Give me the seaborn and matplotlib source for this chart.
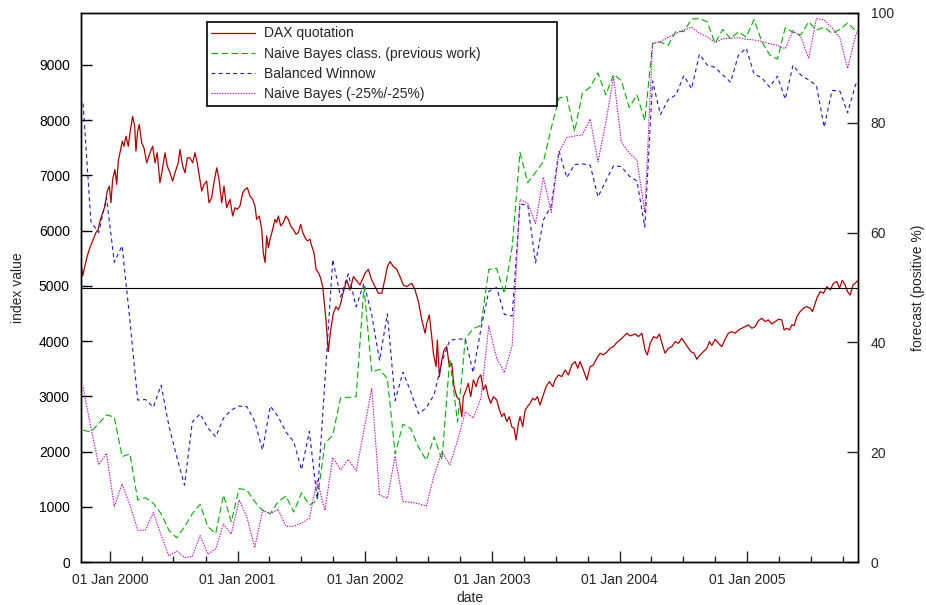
import numpy as np
import pandas as pd
import matplotlib
matplotlib.use("Agg")
import matplotlib.pyplot as plt
import matplotlib.dates as mdates
import seaborn as sns

sns.set_style("white")
plt.rcParams["font.family"] = ["Liberation Sans", "DejaVu Sans"]

# ---------------- data ----------------
# DAX quotation: dates as decimal years, index values
dax_years = [
    1999.772, 1999.786, 1999.804, 1999.822, 1999.843, 1999.869, 1999.890, 1999.908, 1999.922, 1999.943,
    1999.961, 1999.979, 1999.995, 2000.008, 2000.021, 2000.039, 2000.053, 2000.065, 2000.084, 2000.097,
    2000.110, 2000.126, 2000.144, 2000.157, 2000.178, 2000.194, 2000.204, 2000.217, 2000.230, 2000.249,
    2000.267, 2000.288, 2000.314, 2000.335, 2000.353, 2000.371, 2000.392, 2000.411, 2000.432, 2000.450,
    2000.471, 2000.492, 2000.510, 2000.536, 2000.549, 2000.571, 2000.589, 2000.607, 2000.628, 2000.649,
    2000.667, 2000.685, 2000.706, 2000.720, 2000.738, 2000.759, 2000.777, 2000.798, 2000.816, 2000.838,
    2000.856, 2000.877, 2000.895, 2000.916, 2000.942, 2000.963, 2000.981, 2000.999, 2001.020, 2001.042,
    2001.060, 2001.078, 2001.099, 2001.120, 2001.138, 2001.151, 2001.172, 2001.191, 2001.203, 2001.217,
    2001.230, 2001.243, 2001.256, 2001.277, 2001.295, 2001.308, 2001.321, 2001.340, 2001.360, 2001.381,
    2001.400, 2001.418, 2001.439, 2001.460, 2001.478, 2001.497, 2001.513, 2001.531, 2001.549, 2001.570,
    2001.583, 2001.601, 2001.617, 2001.635, 2001.652, 2001.670, 2001.680, 2001.695, 2001.713, 2001.732,
    2001.753, 2001.774, 2001.792, 2001.811, 2001.825, 2001.858, 2001.884, 2001.910, 2001.962, 2002.002,
    2002.027, 2002.054, 2002.080, 2002.106, 2002.133, 2002.159, 2002.177, 2002.198, 2002.224, 2002.250,
    2002.276, 2002.302, 2002.329, 2002.368, 2002.394, 2002.422, 2002.447, 2002.473, 2002.486, 2002.506,
    2002.525, 2002.538, 2002.559, 2002.569, 2002.585, 2002.604, 2002.622, 2002.643, 2002.663, 2002.682,
    2002.700, 2002.721, 2002.742, 2002.761, 2002.773, 2002.794, 2002.812, 2002.831, 2002.852, 2002.873,
    2002.891, 2002.910, 2002.930, 2002.949, 2002.969, 2002.988, 2003.009, 2003.035, 2003.056, 2003.075,
    2003.093, 2003.114, 2003.134, 2003.153, 2003.171, 2003.187, 2003.205, 2003.218, 2003.239, 2003.258,
    2003.276, 2003.297, 2003.318, 2003.336, 2003.354, 2003.375, 2003.396, 2003.422, 2003.448, 2003.475,
    2003.493, 2003.519, 2003.546, 2003.571, 2003.597, 2003.624, 2003.650, 2003.671, 2003.689, 2003.715,
    2003.742, 2003.768, 2003.794, 2003.820, 2003.846, 2003.872, 2003.899, 2003.925, 2003.951, 2003.977,
    2004.003, 2004.029, 2004.056, 2004.082, 2004.121, 2004.147, 2004.174, 2004.199, 2004.217, 2004.239,
    2004.265, 2004.291, 2004.312, 2004.331, 2004.356, 2004.382, 2004.409, 2004.435, 2004.461, 2004.487,
    2004.513, 2004.531, 2004.558, 2004.584, 2004.605, 2004.631, 2004.657, 2004.684, 2004.704, 2004.723,
    2004.749, 2004.775, 2004.801, 2004.827, 2004.853, 2004.880, 2004.906, 2004.932, 2004.958, 2004.984,
    2005.010, 2005.037, 2005.063, 2005.089, 2005.115, 2005.141, 2005.167, 2005.194, 2005.220, 2005.246,
    2005.272, 2005.290, 2005.312, 2005.332, 2005.351, 2005.369, 2005.390, 2005.416, 2005.442, 2005.469,
    2005.495, 2005.513, 2005.534, 2005.547, 2005.573, 2005.599, 2005.626, 2005.652, 2005.677, 2005.704,
    2005.725, 2005.746, 2005.769, 2005.787, 2005.809, 2005.830, 2005.848, 2005.874,
]
dax_values = [
    5421, 5181, 5361, 5542, 5692, 5843, 5963, 6023, 6174, 6325,
    6445, 6716, 6806, 6505, 6926, 7107, 6836, 7257, 7468, 7619,
    7528, 7709, 7528, 7769, 8070, 7890, 7438, 7799, 7920, 7589,
    7498, 7227, 7408, 7528, 7227, 7408, 6866, 7107, 7408, 7167,
    7047, 6896, 7047, 7227, 7468, 7167, 7047, 7318, 7318, 7227,
    7408, 7227, 6926, 6716, 6836, 6896, 6505, 6595, 6866, 7137,
    6926, 6505, 6806, 6415, 6565, 6264, 6415, 6385, 6445, 6686,
    6746, 6776, 6625, 6565, 6445, 6204, 6264, 6023, 5602, 5421,
    5903, 5692, 5843, 6023, 6204, 6144, 6264, 6084, 6144, 6264,
    6204, 6084, 6023, 5933, 5963, 6114, 5963, 5873, 5813, 5843,
    5722, 5602, 5301, 5241, 5150, 4980, 4745, 4383, 3809, 4202,
    4504, 4624, 4564, 4685, 4835, 5107, 4926, 5167, 5016, 5228,
    5301, 5107, 4986, 4866, 4866, 5138, 5348, 5439, 5348, 5301,
    5167, 5016, 4986, 5047, 4926, 4700, 4383, 4142, 4323, 4473,
    4081, 3780, 3537, 4020, 3356, 3658, 3839, 3899, 3537, 3598,
    3175, 2994, 2934, 2632, 2994, 3115, 3236, 2994, 3296, 3175,
    3327, 3387, 3115, 3206, 2994, 2874, 2994, 2934, 2753, 2632,
    2693, 2541, 2632, 2450, 2421, 2209, 2511, 2632, 2450, 2753,
    2813, 2874, 2965, 2934, 2994, 2843, 2994, 3175, 3266, 3175,
    3296, 3387, 3356, 3477, 3387, 3568, 3628, 3508, 3628, 3477,
    3296, 3537, 3568, 3689, 3780, 3750, 3800, 3870, 3899, 3975,
    4020, 4081, 4142, 4093, 4129, 4081, 4142, 3839, 3749, 3960,
    4081, 4051, 4129, 3960, 3780, 3870, 3899, 3990, 3960, 4051,
    3960, 3899, 3809, 3780, 3671, 3749, 3809, 3870, 3990, 3920,
    4033, 3960, 3899, 4033, 4142, 4171, 4142, 4202, 4232, 4262,
    4292, 4232, 4262, 4370, 4413, 4353, 4383, 4310, 4353, 4395,
    4383, 4202, 4232, 4202, 4292, 4280, 4443, 4533, 4594, 4624,
    4594, 4533, 4685, 4775, 4896, 4866, 4986, 4926, 5047, 5077,
    4956, 5100, 5016, 4896, 4835, 5016, 5047, 5107,
]

# Forecast series (% positive), sampled every ~16 trading days
fc_start = "1999-10-16"
fc_step_days = 22.36
nb_prev = [
    24.0, 23.7, 25.2, 26.8, 26.4, 19.2, 19.7, 11.3, 11.7, 10.7,
    8.8, 5.8, 4.4, 6.4, 8.8, 10.5, 6.4, 5.2, 12.2, 7.3,
    13.4, 13.1, 11.0, 9.4, 8.8, 11.0, 12.0, 9.1, 12.6, 10.4,
    11.2, 21.6, 23.1, 29.9, 30.0, 30.1, 50.1, 34.6, 35.1, 33.4,
    19.7, 25.1, 24.3, 20.9, 18.5, 22.8, 18.6, 37.0, 25.5, 40.7,
    42.5, 43.1, 53.3, 53.5, 48.9, 57.4, 74.6, 69.1, 71.0, 72.9,
    79.0, 84.5, 84.8, 78.4, 85.4, 86.5, 89.1, 85.1, 88.8, 87.7,
    82.8, 85.1, 80.4, 94.4, 94.7, 94.1, 96.7, 96.6, 98.9, 99.0,
    98.4, 94.5, 97.0, 95.3, 96.6, 95.6, 98.8, 94.8, 92.4, 91.6,
    97.3, 96.5, 96.0, 98.4, 96.9, 97.4, 96.3, 97.0, 98.2, 96.8,
    96.0,
]
winnow = [
    83.5, 62.0, 60.0, 66.4, 54.6, 57.6, 44.0, 29.5, 29.6, 28.2,
    32.2, 24.8, 19.2, 14.0, 25.5, 27.0, 24.4, 22.8, 26.2, 27.7,
    28.4, 28.3, 25.6, 20.4, 28.4, 26.5, 23.7, 21.9, 16.8, 23.8,
    11.5, 33.0, 55.1, 48.3, 52.5, 46.5, 50.8, 45.0, 36.7, 45.2,
    29.4, 34.6, 31.0, 27.0, 28.1, 30.5, 36.5, 40.4, 40.6, 40.6,
    34.5, 42.5, 49.3, 50.0, 45.1, 44.8, 65.2, 65.0, 54.5, 62.3,
    64.9, 74.9, 70.0, 72.4, 72.5, 72.3, 66.5, 69.4, 72.2, 72.0,
    70.3, 69.4, 61.0, 87.6, 81.5, 84.2, 85.1, 88.6, 86.2, 92.5,
    90.5, 90.1, 88.7, 87.4, 92.3, 93.6, 88.9, 88.2, 86.5, 88.5,
    84.3, 90.5, 88.7, 87.8, 86.8, 79.2, 85.9, 85.8, 81.8, 86.9,
    89.0,
]
nb_25 = [
    31.8, 24.5, 17.7, 19.8, 10.1, 14.2, 10.4, 5.8, 5.8, 9.0,
    4.9, 1.1, 2.0, 0.8, 1.0, 4.8, 1.4, 2.4, 6.9, 5.1,
    11.3, 8.2, 2.6, 9.4, 8.8, 9.6, 6.5, 6.5, 7.1, 7.9,
    14.9, 9.4, 19.0, 16.8, 18.7, 16.6, 24.0, 31.6, 12.2, 11.6,
    19.3, 11.0, 10.9, 10.6, 10.2, 15.8, 20.1, 17.7, 22.1, 27.4,
    26.2, 29.8, 43.0, 37.2, 34.5, 39.4, 66.0, 65.4, 61.7, 70.1,
    63.7, 74.6, 77.3, 77.6, 77.8, 80.7, 72.9, 80.0, 88.3, 76.5,
    74.5, 73.2, 63.7, 94.5, 94.8, 95.6, 96.3, 96.9, 97.4, 96.3,
    95.7, 94.6, 95.3, 95.4, 95.5, 95.2, 95.1, 94.8, 94.4, 94.1,
    93.5, 96.8, 95.7, 91.7, 99.0, 98.7, 97.3, 95.5, 89.9, 95.8,
    99.0,
]

labels = ["DAX quotation", "Naive Bayes class. (previous work)",
          "Balanced Winnow", "Naive Bayes (-25%/-25%)"]
colors = ["#b00000", "#00b000", "#1a1ad0", "#c000c0"]

# ---------------- build frames ----------------
dax_dates = pd.Timestamp("2000-01-01") + pd.to_timedelta(
    (np.asarray(dax_years) - 2000.0) * 365.25, unit="D")
dax_df = pd.DataFrame({"date": dax_dates, "value": dax_values})
fc_dates = pd.Timestamp(fc_start) + pd.to_timedelta(
    np.arange(len(nb_prev)) * fc_step_days, unit="D")
fc_df = pd.DataFrame({"date": fc_dates, "nb_prev": nb_prev,
                      "winnow": winnow, "nb_25": nb_25})

# ---------------- figure ----------------
W, H = 926, 605
fig = plt.figure(figsize=(W / 100, H / 100), dpi=100)
ax = fig.add_axes([81 / W, 43 / H, 777 / W, 549 / H])
ax2 = ax.twinx()

sns.lineplot(data=dax_df, x="date", y="value", ax=ax, color=colors[0],
             linewidth=0.9, estimator=None, sort=False)
l_dax = ax.lines[-1]

ax2.axhline(50, color="black", linewidth=0.8, zorder=1)

sns.lineplot(data=fc_df, x="date", y="nb_prev", ax=ax2, color=colors[1],
             linewidth=0.8, estimator=None, sort=False)
l_nb = ax2.lines[-1]
l_nb.set_linestyle((0, (6.0, 3.0)))
sns.lineplot(data=fc_df, x="date", y="winnow", ax=ax2, color=colors[2],
             linewidth=0.8, estimator=None, sort=False)
l_bw = ax2.lines[-1]
l_bw.set_linestyle((0, (3.5, 3.0)))
sns.lineplot(data=fc_df, x="date", y="nb_25", ax=ax2, color=colors[3],
             linewidth=0.8, estimator=None, sort=False)
l_nb25 = ax2.lines[-1]
l_nb25.set_linestyle((0, (1.2, 1.2)))

# axes ranges
ax.set_xlim(pd.Timestamp("1999-10-10"), pd.Timestamp("2005-11-14"))
ax.set_ylim(0, 9940)
ax2.set_ylim(0, 100)

# ticks
ax.set_yticks(np.arange(0, 10000, 1000))
ax2.set_yticks(np.arange(0, 101, 20))
ax.xaxis.set_major_locator(mdates.YearLocator())
ax.xaxis.set_major_formatter(mdates.DateFormatter("%d %b %Y"))
ax.xaxis.set_minor_locator(mdates.MonthLocator(bymonth=[4, 7, 10]))

ax.tick_params(axis="y", which="major", direction="in", length=8, width=1,
               labelsize=10, pad=8, left=True, right=False, colors="black")
ax.tick_params(axis="x", which="major", direction="in", length=8, width=1,
               labelsize=10, pad=8, bottom=True, top=False)
ax.tick_params(axis="x", which="minor", direction="in", length=4, width=1,
               bottom=True, top=False)
ax2.tick_params(axis="y", which="major", direction="in", length=8, width=1,
                labelsize=10, pad=9, right=True, left=False)

for a in (ax, ax2):
    for s in a.spines.values():
        s.set_color("black")
        s.set_linewidth(1.0)

# labels
ax.set_xlabel("date", fontsize=10, va="center")
ax.xaxis.set_label_coords(0.5, (562 - 598) / 549)
ax.set_ylabel("index value", fontsize=10, va="center", ha="center")
ax.yaxis.set_label_coords((18 - 81) / 777, 0.5)
ax2.set_ylabel("forecast (positive %)", fontsize=10, va="center", ha="center")
ax2.yaxis.set_label_coords((918 - 81) / 777, 0.5)

# legend
x0 = (207 - 81) / 777
x1 = (557 - 81) / 777
y_top = (562 - 22) / 549
y_bot = (562 - 103) / 549
leg = ax2.legend([l_dax, l_nb, l_bw, l_nb25], labels,
                 loc="upper left",
                 bbox_to_anchor=(x0, y_bot, x1 - x0, y_top - y_bot),
                 mode="expand", frameon=True, fancybox=False,
                 edgecolor="black", framealpha=1, borderaxespad=0,
                 handlelength=3.1, handletextpad=0.7, labelspacing=0.45,
                 borderpad=0.32, fontsize=10)
leg.get_frame().set_linewidth(1.2)

fig.savefig("out.png", dpi=100)
